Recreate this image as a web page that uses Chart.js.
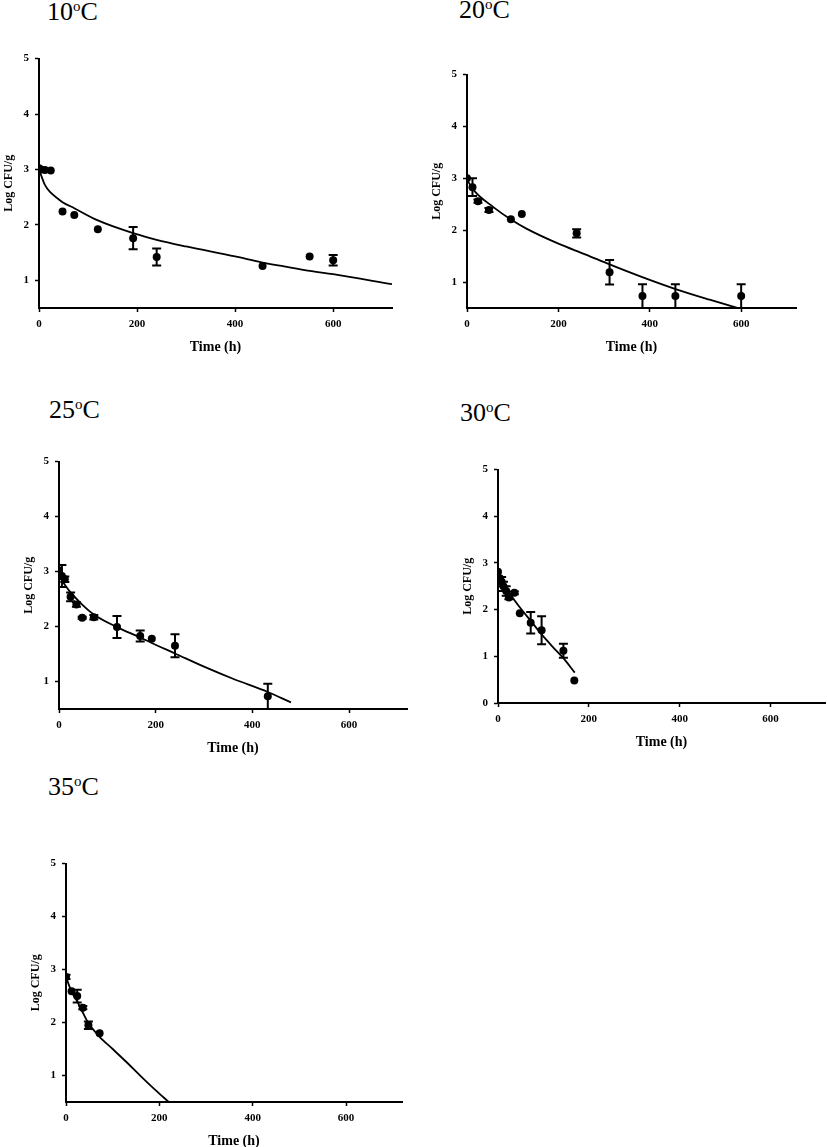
<!DOCTYPE html>
<html>
<head>
<meta charset="utf-8">
<script src="https://cdn.jsdelivr.net/npm/chart.js@4.4.0/dist/chart.umd.min.js"></script>
<style>
	body { margin: 0; background: #fff; width: 827px; height: 1147px; position: relative; overflow: hidden; }
	canvas { position: absolute; }
	.ttl { position: absolute; font-family: "Liberation Serif", serif; font-size: 26px; line-height: 26px; color: #000; white-space: nowrap; }
	.ttl sup { font-size: 15px; vertical-align: 0; position: relative; top: -9px; }
</style>
</head>
<body>
<div class="ttl" style="left:47px;top:-1px">10<sup>o</sup>C</div>
<div class="ttl" style="left:459px;top:-3px">20<sup>o</sup>C</div>
<div class="ttl" style="left:49px;top:397px">25<sup>o</sup>C</div>
<div class="ttl" style="left:460px;top:400px">30<sup>o</sup>C</div>
<div class="ttl" style="left:48px;top:774px">35<sup>o</sup>C</div>

<script>
// tick labels
const xTicks = [0, 200, 400, 600];
const yTicks = [1, 2, 3, 4, 5];
const yTicks30 = [0, 1, 2, 3, 4, 5];

// 10 C : observed means, SD, fitted curve
const t10 = [0, 4, 12, 24, 48, 72, 120, 192, 240, 456, 552, 600];
const logN10 = [3.02, 3.0, 2.99, 2.98, 2.24, 2.18, 1.92, 1.76, 1.42, 1.26, 1.43, 1.36];
const sd10 = [0, 0, 0, 0, 0, 0, 0, 0.2, 0.155, 0, 0, 0.095];
const fitT10 = [0, 2, 5, 12, 24, 36, 48, 72, 120, 192, 240, 300, 400, 456, 500, 552, 600, 720];
const fitN10 = [3.0, 2.95, 2.88, 2.72, 2.58, 2.49, 2.41, 2.3, 2.08, 1.85, 1.73, 1.61, 1.43, 1.32, 1.25, 1.17, 1.11, 0.93];

// 20 C
const t20 = [0, 12, 24, 48, 96, 120, 240, 312, 384, 456, 600];
const logN20 = [3.0, 2.83, 2.56, 2.39, 2.21, 2.31, 1.94, 1.19, 0.73, 0.73, 0.73];
const sd20 = [0, 0.17, 0.03, 0.04, 0, 0, 0.08, 0.235, 0.23, 0.23, 0.23];
const fitT20 = [0, 17, 57, 97, 130, 200, 260, 312, 385, 458, 531, 597];
const fitN20 = [2.97, 2.75, 2.45, 2.2, 2.03, 1.74, 1.53, 1.34, 1.09, 0.86, 0.66, 0.49];

// 25 C
const t25 = [0, 6, 12, 24, 36, 48, 72, 120, 168, 192, 240, 432];
const logN25 = [3.02, 2.92, 2.86, 2.54, 2.4, 2.16, 2.17, 1.99, 1.83, 1.78, 1.65, 0.73];
const sd25 = [0, 0.2, 0.05, 0.08, 0.04, 0.02, 0.04, 0.2, 0.1, 0, 0.21, 0.23];
const fitT25 = [0, 12, 24, 48, 72, 120, 168, 192, 240, 300, 360, 432, 480];
const fitN25 = [2.92, 2.76, 2.62, 2.4, 2.22, 1.99, 1.8, 1.7, 1.51, 1.27, 1.05, 0.81, 0.62];

// 30 C
const t30 = [0, 4, 8, 12, 18, 24, 36, 48, 72, 96, 144, 168];
const logN30 = [2.81, 2.67, 2.6, 2.5, 2.4, 2.26, 2.36, 1.92, 1.72, 1.56, 1.12, 0.48];
const sd30 = [0, 0, 0.1, 0.1, 0.1, 0.04, 0.03, 0, 0.23, 0.3, 0.15, 0];
const fitT30 = [0, 24, 48, 72, 96, 120, 144, 169];
const fitN30 = [2.7, 2.37, 2.05, 1.76, 1.47, 1.21, 0.96, 0.65];

// 35 C
const t35 = [0, 12, 24, 36, 48, 72];
const logN35 = [2.86, 2.59, 2.5, 2.28, 1.95, 1.8];
const sd35 = [0.04, 0, 0.12, 0.03, 0.07, 0];
const fitT35 = [0, 12, 24, 36, 48, 72, 100, 130, 160, 190, 220];
const fitN35 = [2.86, 2.58, 2.4, 2.19, 1.99, 1.73, 1.5, 1.25, 0.99, 0.74, 0.5];

Chart.defaults.font.family = '"Liberation Serif", "Times New Roman", serif';
Chart.defaults.color = "#000";

// axis frame of every panel in page pixels (left, right, top, bottom)
const panels = [
	{ L: 39, R: 392, T: 56, B: 308, yMin: 0.5, yT: yTicks, t: t10, n: logN10, sd: sd10, ft: fitT10, fn: fitN10 },
	{ L: 467, R: 796, T: 72, B: 308, yMin: 0.5, yT: yTicks, t: t20, n: logN20, sd: sd20, ft: fitT20, fn: fitN20 },
	{ L: 59, R: 407, T: 459, B: 709, yMin: 0.5, yT: yTicks, t: t25, n: logN25, sd: sd25, ft: fitT25, fn: fitN25 },
	{ L: 498, R: 825, T: 467, B: 703, yMin: 0, yT: yTicks30, t: t30, n: logN30, sd: sd30, ft: fitT30, fn: fitN30 },
	{ L: 66, R: 402, T: 861, B: 1102, yMin: 0.5, yT: yTicks, t: t35, n: logN35, sd: sd35, ft: fitT35, fn: fitN35 },
];

const W = 38, padTop = 10, padRight = 6, H = 52;

const errorBars = {
	id: "errorBars",
	afterDatasetsDraw(chart) {
		const { ctx, chartArea: a } = chart;
		const xs = chart.scales.x, ys = chart.scales.y;
		const ds = chart.data.datasets[0];
		ctx.save();
		ctx.beginPath();
		ctx.rect(a.left, a.top - 2, a.right - a.left, a.bottom - a.top + 3);
		ctx.clip();
		ctx.strokeStyle = "#000";
		ctx.lineWidth = 2;
		ds.data.forEach((p, i) => {
			const e = ds.errors[i];
			if (!e) return;
			const x = xs.getPixelForValue(p.x);
			const y1 = ys.getPixelForValue(p.y + e);
			const y2 = ys.getPixelForValue(p.y - e);
			ctx.beginPath();
			ctx.moveTo(x, y1); ctx.lineTo(x, y2);
			ctx.moveTo(x - 4.5, y1); ctx.lineTo(x + 4.5, y1);
			ctx.moveTo(x - 4.5, y2); ctx.lineTo(x + 4.5, y2);
			ctx.stroke();
		});
		ctx.restore();
	},
};

panels.forEach((p, i) => {
	const cv = document.createElement("canvas");
	const w = p.R - p.L + W + padRight;
	const h = p.B - p.T + padTop + H;
	cv.width = w;
	cv.height = h;
	cv.style.left = p.L - W + "px";
	cv.style.top = p.T - padTop + "px";
	cv.style.width = w + "px";
	cv.style.height = h + "px";
	document.body.appendChild(cv);

	const obs = p.t.map((t, k) => ({ x: t, y: p.n[k] }));
	const fit = p.ft.map((t, k) => ({ x: t, y: p.fn[k] }));

	new Chart(cv, {
		type: "scatter",
		data: {
			datasets: [
				{
					data: obs,
					errors: p.sd,
					pointRadius: 4,
					pointBackgroundColor: "#000",
					pointBorderWidth: 0,
					showLine: false,
				},
				{
					data: fit,
					showLine: true,
					borderColor: "#000",
					borderWidth: 1.8,
					pointRadius: 0,
					cubicInterpolationMode: "monotone",
					fill: false,
				},
			],
		},
		options: {
			responsive: false,
			animation: false,
			devicePixelRatio: 1,
			layout: { padding: { left: 0, top: padTop, right: padRight, bottom: 0 } },
			plugins: { legend: { display: false }, tooltip: { enabled: false } },
			scales: {
				x: {
					type: "linear",
					min: 0,
					max: 720,
					afterBuildTicks(s) { s.ticks = xTicks.map((v) => ({ value: v })); },
					afterFit(s) { s.height = H; },
					grid: { drawOnChartArea: false, drawTicks: true, tickLength: 4, tickColor: "#000", tickWidth: 1.5 },
					border: { display: true, color: "#000", width: 2 },
					ticks: { padding: 6, maxRotation: 0, font: { size: 11, weight: "bold" }, color: "#000" },
					title: { display: true, text: "Time (h)", font: { size: 14, weight: "bold" }, color: "#000", padding: { top: 0, bottom: 4.6 } },
				},
				y: {
					type: "linear",
					min: p.yMin,
					max: 5,
					afterBuildTicks(s) { s.ticks = p.yT.map((v) => ({ value: v })); },
					afterFit(s) { s.width = W; },
					grid: { drawOnChartArea: false, drawTicks: true, tickLength: 4, tickColor: "#000", tickWidth: 1.5 },
					border: { display: true, color: "#000", width: 2 },
					ticks: { padding: 6, font: { size: 11, weight: "bold" }, color: "#000" },
					title: { display: true, text: "Log CFU/g", font: { size: 12, weight: "bold" }, color: "#000", padding: { top: 1, bottom: 0 } },
				},
			},
		},
		plugins: [errorBars],
	});
});
</script>
</body>
</html>
